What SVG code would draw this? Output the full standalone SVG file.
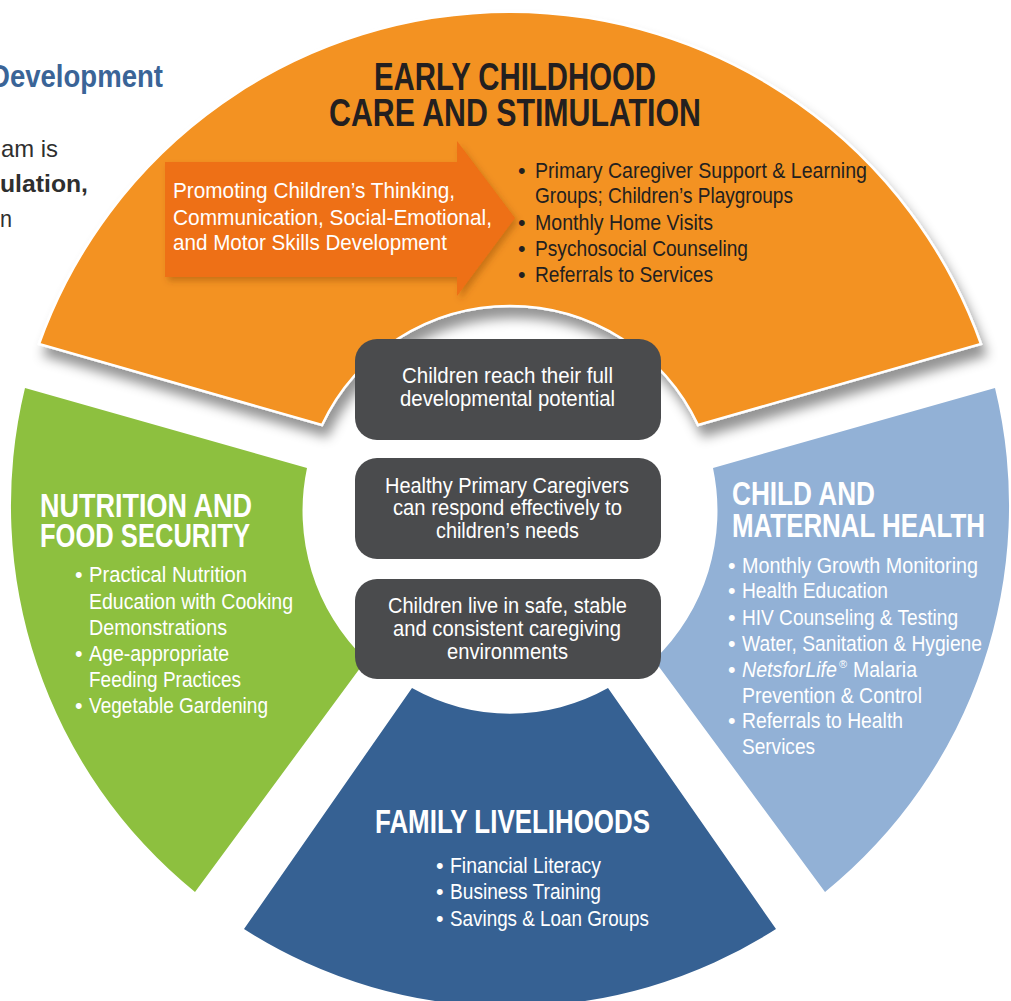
<svg xmlns="http://www.w3.org/2000/svg" width="1011" height="1001" viewBox="0 0 1011 1001">
  <style>
    text { font-family: "Liberation Sans Narrow", "Liberation Sans", Arial, sans-serif; }
    .b { font-weight: bold; }
    .dark { fill: #231f20; }
    .white { fill: #ffffff; }
    .body { font-size: 21.5px; }
    .head { font-size: 33px; font-weight: bold; }
    .box { fill: #4a4b4d; }
    .boxtxt { fill: #ffffff; font-size: 22px; }
  </style>
  <defs>
    <filter id="dropOrange" x="-10%" y="-10%" width="125%" height="130%">
      <feGaussianBlur in="SourceAlpha" stdDeviation="6"/>
      <feOffset dx="5" dy="11" result="blur"/>
      <feFlood flood-color="#000" flood-opacity="0.42"/>
      <feComposite in2="blur" operator="in"/>
      <feMerge><feMergeNode/><feMergeNode in="SourceGraphic"/></feMerge>
    </filter>
    <filter id="dropArrow" x="-10%" y="-10%" width="125%" height="130%">
      <feGaussianBlur in="SourceAlpha" stdDeviation="3"/>
      <feOffset dx="3" dy="4" result="blur"/>
      <feFlood flood-color="#7a3a00" flood-opacity="0.35"/>
      <feComposite in2="blur" operator="in"/>
      <feMerge><feMergeNode/><feMergeNode in="SourceGraphic"/></feMerge>
    </filter>
  </defs>

  <rect width="1011" height="1001" fill="#ffffff"/>

  <!-- page text running behind the wheel -->
  <g id="page-text">
    <text x="-10" y="87" class="b" font-size="31" fill="#3a6497" textLength="173" lengthAdjust="spacingAndGlyphs">Development</text>
    <text x="1" y="157" font-size="24" fill="#2f2f2f" textLength="57" lengthAdjust="spacingAndGlyphs">am is</text>
    <text x="0" y="192" class="b" font-size="24" fill="#2f2f2f" textLength="88" lengthAdjust="spacingAndGlyphs">ulation,</text>
    <text x="0" y="227" font-size="24" fill="#2f2f2f" textLength="12" lengthAdjust="spacingAndGlyphs">n</text>
  </g>

  <!-- Nutrition and food security -->
  <g id="nutrition">
    <path d="M25,388 L307,468 A207,207 0 0,0 366,660 L195,892 A498,498 0 0,1 25,388 Z" fill="#8dc03f"/>
    <text x="40" y="517" class="head white" textLength="212" lengthAdjust="spacingAndGlyphs">NUTRITION AND</text>
    <text x="40" y="547" class="head white" textLength="210" lengthAdjust="spacingAndGlyphs">FOOD SECURITY</text>
    <g class="body white">
      <text x="75" y="582">•</text>
      <text x="89" y="582" textLength="158" lengthAdjust="spacingAndGlyphs">Practical Nutrition</text>
      <text x="89" y="609" textLength="204" lengthAdjust="spacingAndGlyphs">Education with Cooking</text>
      <text x="89" y="635" textLength="138" lengthAdjust="spacingAndGlyphs">Demonstrations</text>
      <text x="75" y="661">•</text>
      <text x="89" y="661" textLength="140" lengthAdjust="spacingAndGlyphs">Age-appropriate</text>
      <text x="89" y="687" textLength="152" lengthAdjust="spacingAndGlyphs">Feeding Practices</text>
      <text x="75" y="713">•</text>
      <text x="89" y="713" textLength="179" lengthAdjust="spacingAndGlyphs">Vegetable Gardening</text>
    </g>
  </g>

  <!-- Child and maternal health -->
  <g id="health">
    <path d="M995,388 L713,468 A207,207 0 0,1 654,660 L825,892 A498,498 0 0,0 995,388 Z" fill="#92b1d6"/>
    <text x="732" y="505" class="head white" textLength="143" lengthAdjust="spacingAndGlyphs">CHILD AND</text>
    <text x="732" y="537" class="head white" textLength="253" lengthAdjust="spacingAndGlyphs">MATERNAL HEALTH</text>
    <g class="body white">
      <text x="728" y="573">•</text>
      <text x="742" y="573" textLength="236" lengthAdjust="spacingAndGlyphs">Monthly Growth Monitoring</text>
      <text x="728" y="598">•</text>
      <text x="742" y="598" textLength="146" lengthAdjust="spacingAndGlyphs">Health Education</text>
      <text x="728" y="625">•</text>
      <text x="742" y="625" textLength="216" lengthAdjust="spacingAndGlyphs">HIV Counseling &amp; Testing</text>
      <text x="728" y="651">•</text>
      <text x="742" y="651" textLength="240" lengthAdjust="spacingAndGlyphs">Water, Sanitation &amp; Hygiene</text>
      <text x="728" y="677">•</text>
      <text x="742" y="677" font-style="italic" textLength="95" lengthAdjust="spacingAndGlyphs">NetsforLife</text>
      <text x="839" y="668" font-size="11">®</text>
      <text x="853" y="677" textLength="64" lengthAdjust="spacingAndGlyphs">Malaria</text>
      <text x="742" y="703" textLength="180" lengthAdjust="spacingAndGlyphs">Prevention &amp; Control</text>
      <text x="728" y="728">•</text>
      <text x="742" y="728" textLength="161" lengthAdjust="spacingAndGlyphs">Referrals to Health</text>
      <text x="742" y="754" textLength="73" lengthAdjust="spacingAndGlyphs">Services</text>
    </g>
  </g>

  <!-- Family livelihoods -->
  <g id="livelihoods">
    <path d="M412,688 A200,200 0 0,0 608,688 L776,929 A494,494 0 0,1 244,929 Z" fill="#366193"/>
    <text x="375" y="833" class="head white" font-size="32" textLength="275" lengthAdjust="spacingAndGlyphs">FAMILY LIVELIHOODS</text>
    <g class="body white">
      <text x="436" y="873">•</text>
      <text x="450" y="873" textLength="151" lengthAdjust="spacingAndGlyphs">Financial Literacy</text>
      <text x="436" y="899">•</text>
      <text x="450" y="899" textLength="151" lengthAdjust="spacingAndGlyphs">Business Training</text>
      <text x="436" y="926">•</text>
      <text x="450" y="926" textLength="199" lengthAdjust="spacingAndGlyphs">Savings &amp; Loan Groups</text>
    </g>
  </g>

  <!-- Early childhood care and stimulation -->
  <g id="early-childhood">
    <path d="M39,344 A500,500 0 0,1 981,344 L698,425 A208,208 0 0,0 322,425 Z" fill="#f39220" stroke="#ffffff" stroke-width="2.5" filter="url(#dropOrange)"/>
    <text x="374" y="90" class="b dark" font-size="39" textLength="282" lengthAdjust="spacingAndGlyphs">EARLY CHILDHOOD</text>
    <text x="329" y="126" class="b dark" font-size="39" textLength="372" lengthAdjust="spacingAndGlyphs">CARE AND STIMULATION</text>
    <path d="M165,162 L457,162 L457,141 L515,218 L457,296 L457,277 L165,277 Z" fill="#ee6f14" filter="url(#dropArrow)"/>
    <g class="body white" font-size="22">
      <text x="173" y="198" textLength="282" lengthAdjust="spacingAndGlyphs">Promoting Children’s Thinking,</text>
      <text x="173" y="225" textLength="319" lengthAdjust="spacingAndGlyphs">Communication, Social-Emotional,</text>
      <text x="173" y="250" textLength="274" lengthAdjust="spacingAndGlyphs">and Motor Skills Development</text>
    </g>
    <g class="body dark">
      <text x="518" y="178">•</text>
      <text x="535" y="178" textLength="332" lengthAdjust="spacingAndGlyphs">Primary Caregiver Support &amp; Learning</text>
      <text x="535" y="203" textLength="258" lengthAdjust="spacingAndGlyphs">Groups; Children’s Playgroups</text>
      <text x="518" y="230">•</text>
      <text x="535" y="230" textLength="178" lengthAdjust="spacingAndGlyphs">Monthly Home Visits</text>
      <text x="518" y="256">•</text>
      <text x="535" y="256" textLength="213" lengthAdjust="spacingAndGlyphs">Psychosocial Counseling</text>
      <text x="518" y="282">•</text>
      <text x="535" y="282" textLength="178" lengthAdjust="spacingAndGlyphs">Referrals to Services</text>
    </g>
  </g>

  <!-- outcome boxes in the hub -->
  <g id="outcome-potential">
    <rect x="355" y="339" width="306" height="101" rx="22" class="box"/>
    <text x="402" y="383" class="boxtxt" textLength="211" lengthAdjust="spacingAndGlyphs">Children reach their full</text>
    <text x="400" y="406" class="boxtxt" textLength="215" lengthAdjust="spacingAndGlyphs">developmental potential</text>
  </g>
  <g id="outcome-caregivers">
    <rect x="355" y="458" width="306" height="101" rx="22" class="box"/>
    <text x="385" y="493" class="boxtxt" textLength="244" lengthAdjust="spacingAndGlyphs">Healthy Primary Caregivers</text>
    <text x="393" y="515" class="boxtxt" textLength="229" lengthAdjust="spacingAndGlyphs">can respond effectively to</text>
    <text x="436" y="538" class="boxtxt" textLength="143" lengthAdjust="spacingAndGlyphs">children’s needs</text>
  </g>
  <g id="outcome-environment">
    <rect x="355" y="579" width="306" height="100" rx="22" class="box"/>
    <text x="388" y="613" class="boxtxt" textLength="239" lengthAdjust="spacingAndGlyphs">Children live in safe, stable</text>
    <text x="393" y="636" class="boxtxt" textLength="228" lengthAdjust="spacingAndGlyphs">and consistent caregiving</text>
    <text x="447" y="659" class="boxtxt" textLength="121" lengthAdjust="spacingAndGlyphs">environments</text>
  </g>

  <g id="connectors"/>
</svg>
